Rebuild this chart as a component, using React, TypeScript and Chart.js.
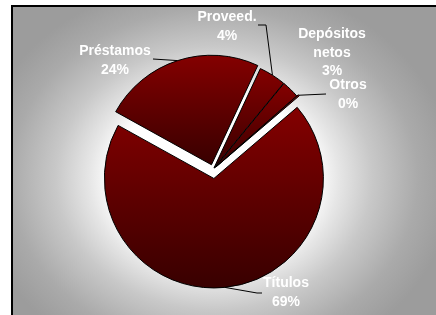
import { useEffect, useRef } from "react";
import { Chart, registerables } from "chart.js";

Chart.register(...registerables);

// ---- data ----
const categories = ["Títulos", "Préstamos", "Proveed.", "Depósitos netos", "Otros"];
const shares = [69.3, 23.9, 4.0, 2.6, 0.2];
const labelLines = [["Títulos"], ["Préstamos"], ["Proveed."], ["Depósitos", "netos"], ["Otros"]];

// ---- layout / style ----
const ROTATION = 49.5;
const RADIUS = 109.5;
const EXPLODE = [9, 5, 2, 2, 4];
const LABEL_POS = [
  { x: 286, y: 287 },
  { x: 115, y: 55 },
  { x: 227, y: 21 },
  { x: 332, y: 38 },
  { x: 348, y: 89 },
];
const LEADERS: (number[][] | null)[] = [
  [[257, 293], [262, 293]],
  [[153, 59]],
  [[266, 25], [258, 25]],
  null,
  [[326, 94]],
];
const LINE_H = 18.5;
const FONT = "bold 14px 'Liberation Sans', Arial, sans-serif";

function sliceGeom(chart: any, i: number) {
  const area = chart.chartArea;
  const cx0 = (area.left + area.right) / 2;
  const cy0 = (area.top + area.bottom) / 2;
  const total = shares.reduce((a, b) => a + b, 0);
  let a = ((ROTATION - 90) * Math.PI) / 180;
  for (let k = 0; k < i; k++) a += (shares[k] / total) * 2 * Math.PI;
  const s = a;
  const e = a + (shares[i] / total) * 2 * Math.PI;
  const mid = (s + e) / 2;
  return { cx: cx0 + Math.cos(mid) * EXPLODE[i], cy: cy0 + Math.sin(mid) * EXPLODE[i], s, e };
}

function yRange(cx: number, cy: number, r: number, s: number, e: number) {
  const ys = [cy, cy + r * Math.sin(s), cy + r * Math.sin(e)];
  for (const base of [-Math.PI / 2, Math.PI / 2]) {
    for (let k = -2; k <= 2; k++) {
      const ang = base + 2 * Math.PI * k;
      if (ang >= s && ang <= e) ys.push(cy + r * Math.sin(ang));
    }
  }
  return [Math.min(...ys), Math.max(...ys)];
}

const backgroundPlugin = {
  id: "bgFrame",
  beforeDraw(chart: any) {
    const ctx = chart.ctx;
    const W = chart.width;
    const H = chart.height;
    ctx.save();
    ctx.fillStyle = "#ffffff";
    ctx.fillRect(0, 0, W, H);
    const x0 = 11, y0 = 5, x1 = 440, y1 = 330;
    const cx = 214, cy = 178;
    const sy = 1.2;
    ctx.save();
    ctx.beginPath();
    ctx.rect(x0, y0, x1 - x0, y1 - y0);
    ctx.clip();
    ctx.translate(cx, cy);
    ctx.scale(1, 1 / sy);
    const gr = ctx.createRadialGradient(0, 0, 0, 0, 0, 240);
    gr.addColorStop(0, "#ffffff");
    gr.addColorStop(0.42, "#ffffff");
    gr.addColorStop(0.52, "#e6e6e6");
    gr.addColorStop(0.66, "#c8c8c8");
    gr.addColorStop(0.85, "#aaaaaa");
    gr.addColorStop(1, "#9c9c9c");
    ctx.fillStyle = gr;
    ctx.fillRect(-cx, -cy * sy, W + 20, (H + 20) * sy);
    ctx.restore();
    ctx.strokeStyle = "#000000";
    ctx.lineWidth = 2;
    ctx.strokeRect(x0 + 1, y0 + 1, x1 - x0, y1 - y0);
    ctx.restore();
  },
};

const explodePlugin = {
  id: "explode",
  afterDatasetsUpdate(chart: any) {
    const meta = chart.getDatasetMeta(0);
    meta.data.forEach((arc: any, i: number) => {
      const mid = (arc.startAngle + arc.endAngle) / 2;
      arc.x += Math.cos(mid) * EXPLODE[i];
      arc.y += Math.sin(mid) * EXPLODE[i];
    });
  },
};

const labelPlugin = {
  id: "pieLabels",
  afterDatasetsDraw(chart: any) {
    const ctx = chart.ctx;
    const meta = chart.getDatasetMeta(0);
    const total = shares.reduce((a, b) => a + b, 0);
    ctx.save();
    ctx.strokeStyle = "#000000";
    ctx.lineWidth = 1;
    meta.data.forEach((arc: any, i: number) => {
      const pts = LEADERS[i];
      if (!pts) return;
      const mid = (arc.startAngle + arc.endAngle) / 2;
      const sx = arc.x + Math.cos(mid) * arc.outerRadius;
      const sy = arc.y + Math.sin(mid) * arc.outerRadius;
      ctx.beginPath();
      ctx.moveTo(sx, sy);
      for (const p of pts) ctx.lineTo(p[0], p[1]);
      ctx.stroke();
    });
    ctx.font = FONT;
    ctx.fillStyle = "#ffffff";
    ctx.textAlign = "center";
    ctx.textBaseline = "alphabetic";
    categories.forEach((_, i) => {
      const pct = Math.round((shares[i] / total) * 100) + "%";
      const lines = [...labelLines[i], pct];
      lines.forEach((ln, j) => ctx.fillText(ln, LABEL_POS[i].x, LABEL_POS[i].y + j * LINE_H));
    });
    ctx.restore();
  },
};

export default function App() {
  const ref = useRef<HTMLCanvasElement | null>(null);
  useEffect(() => {
    if (!ref.current) return;
    const chart = new Chart(ref.current, {
      type: "pie",
      data: {
        labels: categories,
        datasets: [
          {
            data: shares,
            backgroundColor: (c: any) => {
              const chartObj = c.chart;
              if (!chartObj.chartArea) return "#700000";
              const g = sliceGeom(chartObj, c.dataIndex);
              const [ymin, ymax] = yRange(g.cx, g.cy, RADIUS, g.s, g.e);
              const gr = chartObj.ctx.createLinearGradient(0, ymin, 0, ymax);
              gr.addColorStop(0, "#840000");
              gr.addColorStop(1, "#380000");
              return gr;
            },
            borderColor: "#000000",
            borderWidth: 1,
          },
        ],
      },
      options: {
        responsive: false,
        maintainAspectRatio: false,
        animation: false,
        events: [],
        rotation: ROTATION,
        radius: RADIUS,
        layout: { padding: { left: 0, right: 10, top: 24, bottom: 0 } },
        plugins: {
          legend: { display: false },
          tooltip: { enabled: false },
        },
      } as any,
      plugins: [backgroundPlugin, explodePlugin, labelPlugin],
    });
    return () => chart.destroy();
  }, []);
  return (
    <div style={{ position: "absolute", left: 0, top: 0, width: 436, height: 315 }}>
      <canvas ref={ref} width={436} height={315} style={{ display: "block" }} />
    </div>
  );
}
